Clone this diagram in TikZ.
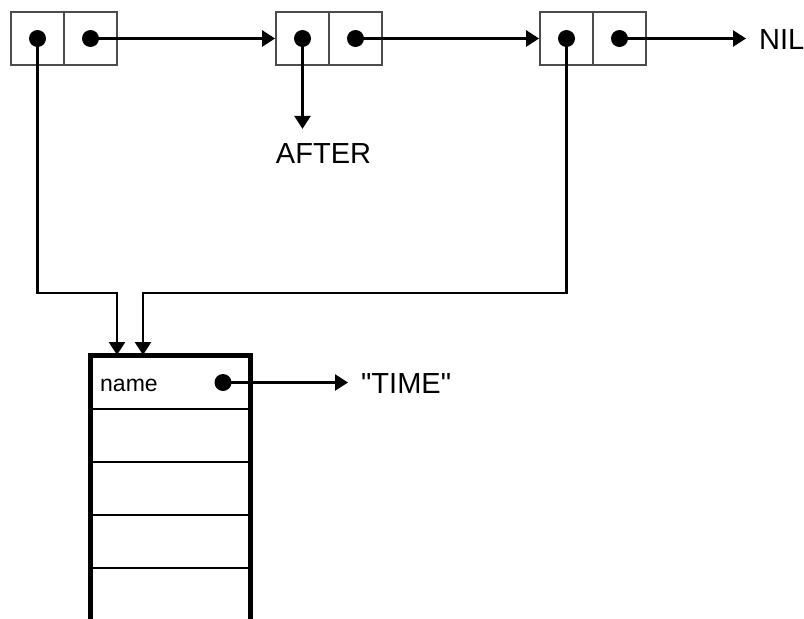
\documentclass[tikz,border=0pt]{standalone}
\usepackage{fontspec}
\setmainfont{Liberation Sans}[Ligatures=TeXOff]
\usetikzlibrary{arrows.meta}

\begin{document}
\begin{tikzpicture}[
    x=1pt, y=-1pt,
    >={Triangle[length=13pt,width=16pt]},
    half/.style={
        draw=black!70,
        line width=1.8pt,
        minimum width=53pt,
        minimum height=53pt,
        inner sep=0pt
    },
    dot/.style={circle, fill=black, minimum size=17pt, inner sep=0pt},
    arrow/.style={->, line width=2.6pt},
    word/.style={font=\fontsize{29}{33}\selectfont, inner sep=0pt},
    row/.style={
        draw,
        line width=2pt,
        minimum width=158pt,
        minimum height=53pt,
        inner sep=0pt
    }
]

\clip (0,0) rectangle (804,619);

\node[half] (c1a) at (37.5,38.5) {};
\node[half] (c1b) at (90.5,38.5) {};
\node[half] (c2a) at (302.5,38.5) {};
\node[half] (c2b) at (355.5,38.5) {};
\node[half] (c3a) at (566.5,38.5) {};
\node[half] (c3b) at (619.5,38.5) {};

\node[dot] (d1a) at (c1a) {};
\node[dot] (d1b) at (c1b) {};
\node[dot] (d2a) at (c2a) {};
\node[dot] (d2b) at (c2b) {};
\node[dot] (d3a) at (c3a) {};
\node[dot] (d3b) at (c3b) {};

\node[word, anchor=base west] (nil) at (759,49) {NIL};
\node[word, anchor=base] (after) at (323.5,163) {AFTER};

\node[row] (r1) at (170,382.5) {};
\node[row] (r2) at (170,435.5) {};
\node[row] (r3) at (170,488.5) {};
\node[row] (r4) at (170,541.5) {};
\node[row] (r5) at (170,594.5) {};
\draw[line width=5pt] (r5.south west) -- (r1.north west) -- (r1.north east) -- (r5.south east);

\node[anchor=base west, inner sep=0pt, font=\fontsize{23}{27}\selectfont] (name) at (100,391) {name};
\node[dot] (dn) at (223,382.5) {};
\node[word, anchor=base west] (time) at (361,393) {"TIME"};

\coordinate (j1) at (117,293);
\coordinate (j2) at (143,293);

\draw[arrow] (d1b.center) -- (c2a.west);
\draw[arrow] (d2b.center) -- (c3a.west);
\draw[arrow, shorten >=13pt] (d3b.center) -- (nil.west |- d3b);
\draw[arrow, shorten >=14pt] (d2a.center) -- (d2a |- after.north);
\draw[arrow] (d1a.center) |- (j1) -- (j1 |- r1.north);
\draw[arrow] (d3a.center) |- (j2) -- (j2 |- r1.north);
\draw[arrow, shorten >=13pt] (dn.center) -- (time.west |- dn);

\end{tikzpicture}
\end{document}
